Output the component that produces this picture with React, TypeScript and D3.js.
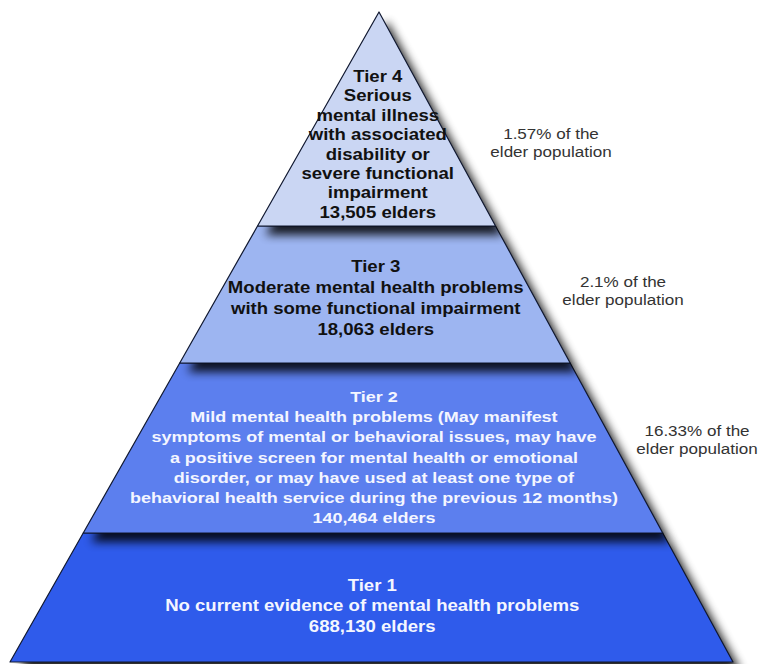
import React, { useEffect, useRef } from 'react';
import * as d3 from 'd3';

// tiers listed top (4) to bottom (1)
const tierNames = ['Tier 4', 'Tier 3', 'Tier 2', 'Tier 1'];
const tierDescriptions = [
  ['Serious', 'mental illness', 'with associated', 'disability or', 'severe functional', 'impairment'],
  ['Moderate mental health problems', 'with some functional impairment'],
  [
    'Mild mental health problems (May manifest',
    'symptoms of mental or behavioral issues, may have',
    'a positive screen for mental health or emotional',
    'disorder, or may have used at least one type of',
    'behavioral health service during the previous 12 months)',
  ],
  ['No current evidence of mental health problems'],
];
const elderCounts = ['13,505', '18,063', '140,464', '688,130'];
const populationShares = ['1.57%', '2.1%', '16.33%', null];

export default function App() {
  const svgRef = useRef<SVGSVGElement>(null);

  useEffect(() => {
    const width = 761;
    const height = 664;
    const svg = d3.select(svgRef.current);
    svg.selectAll('*').remove();

    // layout of the pyramid
    const apex = { x: 379, y: 12 };
    const baseY = 662;
    const breaks = [12, 226, 363, 533, 662];
    const fills = ['#cad6f3', '#9db5f1', '#5c7fee', '#2f5beb'];
    const textColors = ['#111', '#111', '#f4f6ff', '#f4f6ff'];
    const fontSizes = [16, 16, 15.5, 16];
    const firstBaseline = [82, 272, 402, 591];
    const lineStep = [19.4, 21, 20.2, 20.5];
    const stretch = 1.16;
    const shareAnchor = [
      { x: 551, y: 139 },
      { x: 623, y: 287 },
      { x: 697, y: 436 },
    ];

    const leftX = d3.scaleLinear().domain([apex.y, baseY]).range([apex.x, 10]);
    const rightX = d3.scaleLinear().domain([apex.y, baseY]).range([apex.x, 733]);

    const defs = svg.append('defs');
    const f = defs.append('filter').attr('id', 'blur')
      .attr('x', '-20%').attr('y', '-20%').attr('width', '140%').attr('height', '140%');
    f.append('feGaussianBlur').attr('stdDeviation', 5);

    const line = d3.line();
    const tierPts = (i: number): [number, number][] => {
      const y0 = breaks[i], y1 = breaks[i + 1];
      return [
        [leftX(y0), y0], [rightX(y0), y0],
        [rightX(y1), y1], [leftX(y1), y1],
      ];
    };

    svg.append('rect').attr('width', width).attr('height', height).attr('fill', '#fff');

    const g = svg.append('g');
    // bottom tier first so each upper tier casts its shadow onto the one below
    for (let i = tierNames.length - 1; i >= 0; i--) {
      const pts = tierPts(i);
      g.append('path')
        .attr('d', line(pts) + 'Z')
        .attr('fill', '#000')
        .attr('opacity', 0.85)
        .attr('transform', 'translate(8,9)')
        .attr('filter', 'url(#blur)');
      g.append('path')
        .attr('d', line(pts) + 'Z')
        .attr('fill', fills[i])
        .attr('stroke', '#101830')
        .attr('stroke-width', 1.2)
        .attr('stroke-linejoin', 'round');
    }

    // tier texts (source text is rendered slightly wide)
    tierNames.forEach((name, i) => {
      const lines = [name, ...tierDescriptions[i], `${elderCounts[i]} elders`];
      const midY = (breaks[i] + breaks[i + 1]) / 2;
      const cx = (leftX(midY) + rightX(midY)) / 2;
      const t = svg.append('text')
        .attr('text-anchor', 'middle')
        .attr('transform', `translate(${cx},0) scale(${stretch},1)`)
        .attr('font-family', '"Liberation Sans", Arial, sans-serif')
        .attr('font-weight', 'bold')
        .attr('font-size', fontSizes[i])
        .attr('fill', textColors[i]);
      lines.forEach((l, k) => {
        t.append('tspan').attr('x', 0).attr('y', firstBaseline[i] + k * lineStep[i]).text(l);
      });
    });

    // population shares to the right
    populationShares.forEach((p, i) => {
      if (!p) return;
      const a = shareAnchor[i];
      const t = svg.append('text')
        .attr('text-anchor', 'middle')
        .attr('transform', `translate(${a.x},0) scale(1.1,1)`)
        .attr('font-family', '"Liberation Sans", Arial, sans-serif')
        .attr('font-size', 15.5)
        .attr('fill', '#333');
      t.append('tspan').attr('x', 0).attr('y', a.y).text(`${p} of the`);
      t.append('tspan').attr('x', 0).attr('y', a.y + 18).text('elder population');
    });
  }, []);

  return (
    <svg
      ref={svgRef}
      width={761}
      height={664}
      style={{ position: 'absolute', left: 0, top: 0, display: 'block' }}
    />
  );
}
